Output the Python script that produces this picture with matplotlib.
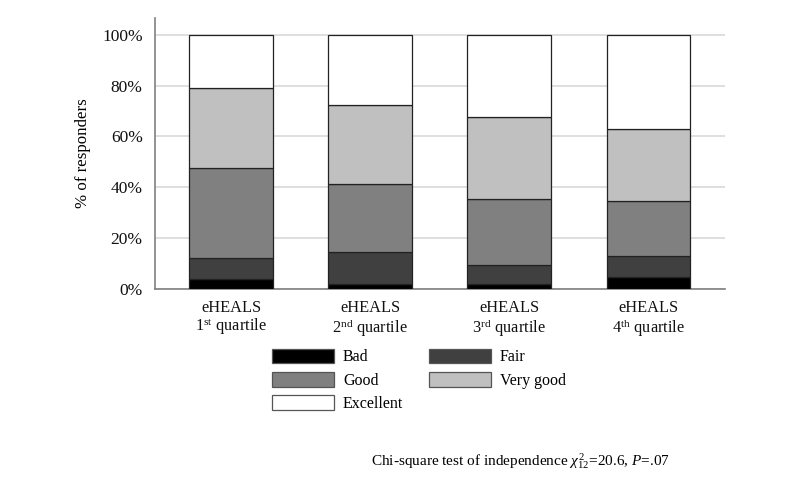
import matplotlib.pyplot as plt
from matplotlib.patches import Patch

plt.rcParams['font.family'] = ['Liberation Serif', 'DejaVu Serif']
plt.rcParams['mathtext.fontset'] = 'custom'
plt.rcParams['mathtext.rm'] = 'Liberation Serif'
plt.rcParams['mathtext.it'] = 'Liberation Serif:italic'

# data (% of responders per eHEALS quartile)
groups = ['eHEALS\n1$^{\\rm st}$ quartile', 'eHEALS\n2$^{\\rm nd}$ quartile',
          'eHEALS\n3$^{\\rm rd}$ quartile', 'eHEALS\n4$^{\\rm th}$ quartile']
categories = ['Bad', 'Fair', 'Good', 'Very good', 'Excellent']
bad = [3.9, 2.1, 1.8, 4.5]
fair = [8.1, 12.5, 7.5, 8.3]
good = [35.5, 26.6, 26.1, 21.7]
very_good = [31.4, 31.0, 32.3, 28.4]
excellent = [21.1, 27.8, 32.3, 37.1]
colors = ['#000000', '#404040', '#808080', '#c0c0c0', '#ffffff']

fig = plt.figure(figsize=(8, 4.98), dpi=100)
ax = fig.add_axes([0.194, 0.420, 0.712, 0.544])

x = range(len(groups))
bottom = [0, 0, 0, 0]
handles = []
for name, vals, c in zip(categories, [bad, fair, good, very_good, excellent], colors):
    ax.bar(x, vals, bottom=bottom, width=0.6, color=c, edgecolor='#222222', lw=0.9, zorder=3)
    bottom = [b + v for b, v in zip(bottom, vals)]
    handles.append(Patch(facecolor=c, edgecolor='#555555', lw=0.9, label=name))

ax.set_xlim(-0.545, 3.55)
ax.set_ylim(0, 106.6)
ax.set_yticks([0, 20, 40, 60, 80, 100])
ax.set_yticklabels(['0%', '20%', '40%', '60%', '80%', '100%'])
ax.set_xticks(list(x))
ax.set_xticklabels(groups, linespacing=1.05)
ax.tick_params(axis='both', length=0, colors='#111111')
ax.tick_params(axis='x', pad=8, labelsize=11.8)
ax.tick_params(axis='y', pad=9, labelsize=12.5)
ax.yaxis.grid(True, color='#d9d9d9', lw=1.2, zorder=0)
for s in ['top', 'right']:
    ax.spines[s].set_visible(False)
for s in ['left', 'bottom']:
    ax.spines[s].set_color('#808080')
    ax.spines[s].set_linewidth(1.2)
ax.set_ylabel('% of responders', fontsize=12.2, labelpad=8)

# legend in row order: Bad, Fair / Good, Very good / Excellent
order = [0, 2, 4, 1, 3]
fig.legend([handles[i] for i in order], [categories[i] for i in order],
           loc='upper left', bbox_to_anchor=(0.340, 0.300), ncol=2, frameon=False,
           fontsize=11.5, handlelength=3.9, handleheight=1.05, handletextpad=0.55,
           columnspacing=1.6, labelspacing=0.4, borderpad=0, borderaxespad=0)

fig.text(0.838, 0.066, 'Chi-square test of independence $\\chi^{2}_{12}$=20.6, $P$=.07',
         ha='right', va='baseline', fontsize=11)

fig.savefig('out.png', dpi=100)
